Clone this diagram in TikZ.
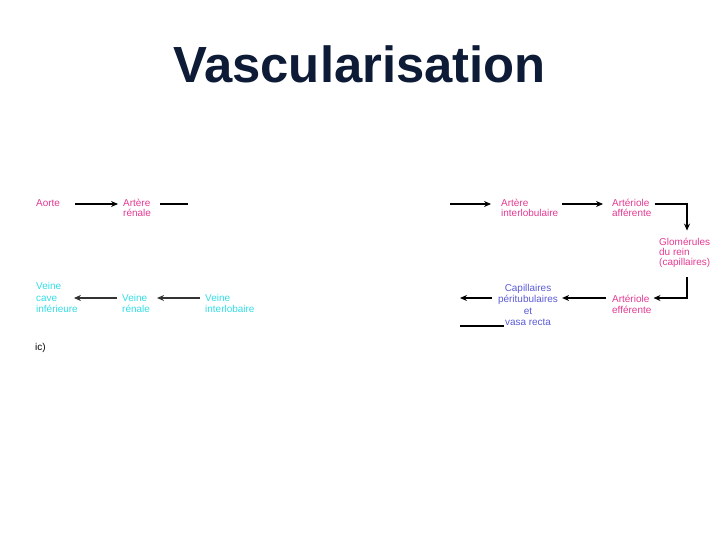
\documentclass[tikz,border=0pt]{standalone}
\usepackage{fontspec}
\setmainfont{Liberation Sans}
\usetikzlibrary{arrows.meta}
\definecolor{titre}{HTML}{0D1B36}
\definecolor{artere}{HTML}{E33A92}
\definecolor{veine}{HTML}{33DDE6}
\definecolor{capil}{HTML}{5B5BD6}
\definecolor{gris}{HTML}{333333}

\begin{document}
\begin{tikzpicture}[x=1bp,y=-1bp,
  lab/.style={anchor=base west,inner sep=0pt,align=left,font=\fontsize{10}{10.5}\selectfont},
  fleche/.style={-{Stealth[length=7pt,width=6pt]},line width=1.1pt}]
\useasboundingbox (0,0) rectangle (720,540);
\coordinate (haut) at (0,204);
\coordinate (bas) at (0,298);
\coordinate (droite) at (687,0);

\node [anchor=base,inner sep=0pt,text=titre,font=\fontsize{51}{60}\selectfont\bfseries] (titre) at (359.5,83) {Vascularisation};

% arteres (ancre = ligne de base de la derniere ligne)
\node [lab,text=artere] (aorte) at (36,207) {Aorte};
\node [lab,text=artere] (artrenale) at (123,217) {Artère\\rénale};
\node [lab,text=artere] (artinter) at (501,217) {Artère\\interlobulaire};
\node [lab,text=artere] (arteriolaff) at (612,217) {Artériole\\afférente};
\node [lab,text=artere] (glom) at (659,266) {Glomérules\\du rein\\(capillaires)};
\node [lab,text=artere] (arteriolaeff) at (612,313) {Artériole\\efférente};
\node [lab,anchor=base,align=center,text=capil,font=\fontsize{10}{11.5}\selectfont] (capil) at (528,325.5) {Capillaires\\péritubulaires\\et\\vasa recta};

% veines
\node [lab,text=veine,font=\fontsize{10}{11.5}\selectfont] (vcave) at (36,312.5) {Veine\\cave\\inférieure};
\node [lab,text=veine] (vrenale) at (122,312) {Veine\\rénale};
\node [lab,text=veine] (vinter) at (205,312) {Veine\\interlobaire};
\node [lab] (ic) at (35,350) {ic)};

\coordinate (coupe1) at (188,204);
\coordinate (coupe2) at (450,204);
\coordinate (coupe3) at (460,298);
\coordinate (trait1) at (460,326);
\coordinate (trait2) at (504,326);

\draw [fleche,shorten <=15pt,shorten >=5pt] (aorte.east |- haut)--(artrenale.west |- haut);
\draw [line width=1.1pt,shorten <=9pt] (artrenale.east |- haut)--(coupe1);
\draw [fleche,shorten >=10pt] (coupe2)--(artinter.west |- haut);
\draw [fleche,shorten <=4pt,shorten >=9pt] (artinter.east |- haut)--(arteriolaff.west |- haut);
\draw [fleche,shorten <=3pt,shorten >=7pt] (arteriolaff.east |- haut)-|(droite |- glom.north);
\draw [fleche,shorten <=9pt,shorten >=2pt] (droite |- glom.south)|-(arteriolaeff.east |- bas);
\draw [fleche,shorten <=6pt,shorten >=4pt] (arteriolaeff.west |- bas)--(capil.east |- bas);
\draw [fleche,shorten <=6pt] (capil.west |- bas)--(coupe3);
\draw [line width=1.1pt] (trait1)--(trait2);
\draw [fleche,gris,shorten <=5pt,shorten >=7pt] (vinter.west |- bas)--(vrenale.east |- bas);
\draw [fleche,gris,shorten <=5pt,shorten >=-4pt] (vrenale.west |- bas)--(vcave.east |- bas);
\end{tikzpicture}
\end{document}
